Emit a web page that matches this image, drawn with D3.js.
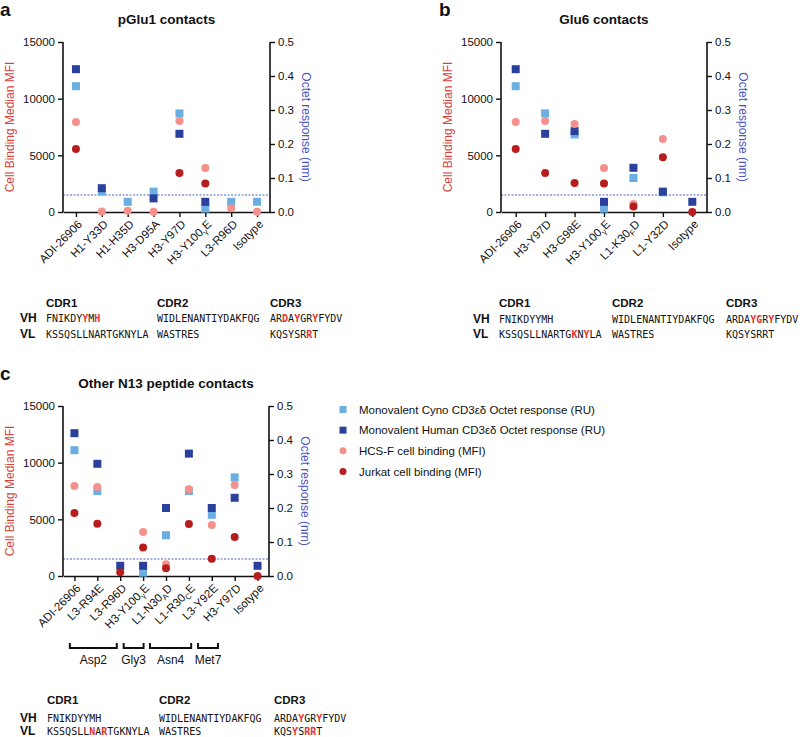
<!DOCTYPE html>
<html><head><meta charset="utf-8">
<script src="https://cdn.jsdelivr.net/npm/d3@7"></script>
<style>body{margin:0;background:#fff}svg{display:block;font-family:"Liberation Sans",Arial,sans-serif}</style>
</head><body>
<svg id="chart" width="800" height="737"></svg>
<script>
// ---------- DATA ----------
const aCats = ["ADI-26906","H1-Y33D","H1-H35D","H3-D95A","H3-Y97D","H3-Y100_γ_E","L3-R96D","Isotype"];
const aCyno = [0.37, 0.06, 0.03, 0.06, 0.29, 0.01, 0.03, 0.03];
const aHuman = [0.42, 0.07, null, 0.04, 0.23, 0.03, null, null];
const aHCS = [7950, 50, 100, 30, 8030, 3880, 330, 30];
const aJurkat = [5550, null, null, null, 3450, 2520, null, null];

const bCats = ["ADI-26906","H3-Y97D","H3-G98E","H3-Y100_γ_E","L1-K30_F_D","L1-Y32D","Isotype"];
const bCyno = [0.37, 0.29, 0.228, 0.01, 0.10, 0.058, null];
const bHuman = [0.42, 0.23, 0.238, 0.03, 0.13, 0.06, 0.03];
const bHCS = [7950, 8030, 7760, 3880, 700, 6440, null];
const bJurkat = [5550, 3450, 2550, 2520, 480, 4820, 0];

const cCats = ["ADI-26906","L3-R94E","L3-R96D","H3-Y100_γ_E","L1-N30_A_D","L1-R30_C_E","L3-Y92E","H3-Y97D","Isotype"];
const cCyno = [0.37, 0.25, null, 0.01, 0.12, 0.25, 0.18, 0.29, null];
const cHuman = [0.42, 0.33, 0.03, 0.03, 0.20, 0.36, 0.20, 0.23, 0.03];
const cHCS = [7950, 7850, null, 3880, 1030, 7650, 4500, 8030, null];
const cJurkat = [5560, 4620, 330, 2520, 680, 4590, 1530, 3450, 0];

const leftTicks = [0, 5000, 10000, 15000];
const rightTicks = [0, 0.1, 0.2, 0.3, 0.4, 0.5];
const threshold = 0.05;

const legendLabels = ["Monovalent Cyno CD3εδ Octet response (RU)","Monovalent Human CD3εδ Octet response (RU)","HCS-F cell binding (MFI)","Jurkat cell binding (MFI)"];

const brackets = [
  {label:"Asp2", from:1.0, to:3.05},
  {label:"Gly3", from:3.35, to:4.22},
  {label:"Asn4", from:4.5, to:6.3},
  {label:"Met7", from:6.6, to:7.47}
];

// sequences: [CDR1, CDR2, CDR3] for VH and VL, with red index lists
const seqVH = ["FNIKDYYMH","WIDLENANTIYDAKFQG","ARDAYGRYFYDV"];
const seqVL = ["KSSQSLLNARTGKNYLA","WASTRES","KQSYSRRT"];
const aRedVH = [[6,8],[],[2,4,7]];
const aRedVL = [[],[],[6]];
const bRedVH = [[],[],[4,5,7]];
const bRedVL = [[12,14],[],[]];
const cRedVH = [[],[],[4,7]];
const cRedVL = [[7,9],[],[3,5,6]];

// ---------- STYLE ----------
const COL = {cyno:"#6aaee2", human:"#2b409c", hcs:"#f4918c", jurkat:"#b81d1e",
             leftLbl:"#d8423c", rightLbl:"#4c55c4", dash:"#5063c8"};
const SANS = "'Liberation Sans', Arial, sans-serif";
const MONO = "'DejaVu Sans Mono', monospace";

const svg = d3.select("#chart");
svg.append("rect").attr("width",800).attr("height",737).attr("fill","#fff");

function catLabel(sel, s){
  const parts = s.split("_");
  parts.forEach((p,i)=>{
    if(!p) return;
    const t = sel.append("tspan").text(p);
    if(i%2===1){ t.attr("font-size","8px").attr("dy","3"); }
    else if(i>0){ t.attr("dy","-3"); }
  });
}

function panel(cfg){
  const g = svg.append("g");
  const x = d3.scalePoint().domain(cfg.cats).range([cfg.left, cfg.right]).padding(0.5);
  const yL = d3.scaleLinear().domain([0,15000]).range([cfg.bottom, cfg.top]);
  const yR = d3.scaleLinear().domain([0,0.5]).range([cfg.bottom, cfg.top]);

  g.append("line").attr("x1",cfg.left).attr("x2",cfg.right)
    .attr("y1",yR(threshold)).attr("y2",yR(threshold))
    .attr("stroke",COL.dash).attr("stroke-width",1.2).attr("stroke-dasharray","2,1.5");

  const axL = g.append("g").attr("transform",`translate(${cfg.left},0)`)
    .call(d3.axisLeft(yL).tickValues(leftTicks).tickFormat(d3.format("d")).tickSize(5).tickPadding(3));
  const axR = g.append("g").attr("transform",`translate(${cfg.right},0)`)
    .call(d3.axisRight(yR).tickValues(rightTicks).tickFormat(d3.format(".1f")).tickSize(5).tickPadding(3));
  const axB = g.append("g").attr("transform",`translate(0,${cfg.bottom})`)
    .call(d3.axisBottom(x).tickSize(5).tickSizeOuter(0).tickFormat(""));
  [axL,axR,axB].forEach(a=>{
    a.attr("font-family",SANS);
    a.select(".domain").attr("stroke","#111").attr("stroke-width",1.6);
    a.selectAll(".tick line").attr("stroke","#111").attr("stroke-width",1.4);
    a.selectAll("text").attr("font-size","11.5px").attr("fill","#111");
  });
  axL.select(".domain").attr("d",`M0,${cfg.bottom}V${cfg.top}`);
  axR.select(".domain").attr("d",`M0,${cfg.bottom}V${cfg.top}`);

  cfg.cats.forEach(c=>{
    const t = g.append("text")
      .attr("transform",`translate(${x(c)+4},${cfg.bottom+10}) rotate(-45)`)
      .attr("text-anchor","end").attr("font-size","11.5px").attr("fill","#111")
      .attr("dy","0.35em");
    catLabel(t, c);
  });

  const sq = 8;
  const drawSq = (vals,col)=>g.append("g").selectAll("rect")
    .data(cfg.cats.map((c,i)=>({c,v:vals[i]})).filter(d=>d.v!=null))
    .join("rect").attr("x",d=>x(d.c)-sq/2).attr("y",d=>yR(d.v)-sq/2)
    .attr("width",sq).attr("height",sq).attr("fill",col);
  const drawCi = (vals,col)=>g.append("g").selectAll("circle")
    .data(cfg.cats.map((c,i)=>({c,v:vals[i]})).filter(d=>d.v!=null))
    .join("circle").attr("cx",d=>x(d.c)).attr("cy",d=>yL(d.v)).attr("r",4).attr("fill",col);
  drawSq(cfg.cyno, COL.cyno);
  drawSq(cfg.human, COL.human);
  drawCi(cfg.hcs, COL.hcs);
  drawCi(cfg.jurkat, COL.jurkat);

  const cy = (cfg.top+cfg.bottom)/2;
  g.append("text").attr("transform",`translate(${cfg.left-49},${cy}) rotate(-90)`)
    .attr("text-anchor","middle").attr("font-size","12px").attr("fill",COL.leftLbl)
    .text("Cell Binding Median MFI");
  g.append("text").attr("transform",`translate(${cfg.right+32},${cy}) rotate(90)`)
    .attr("text-anchor","middle").attr("font-size","12px").attr("fill",COL.rightLbl)
    .text("Octet response (nm)");

  g.append("text").attr("x",(cfg.left+cfg.right)/2).attr("y",cfg.top-18)
    .attr("text-anchor","middle").attr("font-size","13.5px").attr("font-weight","bold")
    .attr("fill","#111").text(cfg.title);
  g.append("text").attr("x",cfg.letterX).attr("y",cfg.top-26)
    .attr("font-size","19px").attr("font-weight","bold").attr("fill","#111").text(cfg.letter);
  return {x,g};
}

function sequences(cfg){
  const g = svg.append("g");
  const cols = cfg.cols;
  ["CDR1","CDR2","CDR3"].forEach((h,i)=>{
    g.append("text").attr("x",cols[i]).attr("y",cfg.y0).attr("font-size","11.5px")
      .attr("font-weight","bold").attr("fill","#111").text(h);
  });
  [["VH",seqVH,cfg.redVH,cfg.y1],["VL",seqVL,cfg.redVL,cfg.y2]].forEach(([lab,seqs,reds,yy])=>{
    g.append("text").attr("x",cfg.labX).attr("y",yy).attr("font-size","12px")
      .attr("font-weight","bold").attr("fill","#111").text(lab);
    seqs.forEach((s,i)=>{
      const t = g.append("text").attr("x",cols[i]).attr("y",yy)
        .style("font-family",MONO).attr("font-size","10px").attr("fill","#111");
      s.split("").forEach((ch,k)=>{
        const red = reds[i].includes(k);
        t.append("tspan").text(ch).attr("fill",red?"#e8302a":"#111")
          .attr("font-weight",red?"bold":"normal");
      });
    });
  });
}

panel({cats:aCats,cyno:aCyno,human:aHuman,hcs:aHCS,jurkat:aJurkat,
  left:63,right:270,top:42,bottom:212,title:"pGlu1 contacts",letter:"a",letterX:0});
panel({cats:bCats,cyno:bCyno,human:bHuman,hcs:bHCS,jurkat:bJurkat,
  left:501,right:707,top:42,bottom:212,title:"Glu6 contacts",letter:"b",letterX:439});
const pc = panel({cats:cCats,cyno:cCyno,human:cHuman,hcs:cHCS,jurkat:cJurkat,
  left:63,right:269,top:406,bottom:576,title:"Other N13 peptide contacts",letter:"c",letterX:0});

sequences({cols:[46,157,270],labX:20,y0:307,y1:322,y2:337.5,redVH:aRedVH,redVL:aRedVL});
sequences({cols:[499,612,726],labX:473,y0:307,y1:323,y2:338,redVH:bRedVH,redVL:bRedVL});
sequences({cols:[47,159,274],labX:20,y0:704,y1:721.5,y2:735,redVH:cRedVH,redVL:cRedVL});

(function(){
  const x = pc.x;
  const step = x.step();
  const x0 = x(cCats[0]);
  const bx = d3.scaleLinear().domain([0,1]).range([x0-1.2*step, x0-0.2*step]);
  const g = svg.append("g");
  const yb = 648, h = 5;
  brackets.forEach(b=>{
    const a = bx(b.from), e = bx(b.to);
    g.append("path").attr("d",`M${a},${yb-h}V${yb}H${e}V${yb-h}`)
      .attr("fill","none").attr("stroke","#111").attr("stroke-width",2);
    g.append("text").attr("x",(a+e)/2).attr("y",664).attr("text-anchor","middle")
      .attr("font-size","12px").attr("fill","#111").text(b.label);
  });
})();

(function(){
  const g = svg.append("g");
  const cols = [COL.cyno,COL.human,COL.hcs,COL.jurkat];
  const ly = d3.scalePoint().domain(legendLabels).range([409.5,471.5]);
  legendLabels.forEach((l,i)=>{
    const y = ly(l);
    if(i<2) g.append("rect").attr("x",343-3.5).attr("y",y-3.5).attr("width",7).attr("height",7).attr("fill",cols[i]);
    else g.append("circle").attr("cx",343).attr("cy",y).attr("r",3.5).attr("fill",cols[i]);
    g.append("text").attr("x",359).attr("y",y+4).attr("font-size","11.5px").attr("fill","#111").text(l);
  });
})();
</script>
</body></html>
